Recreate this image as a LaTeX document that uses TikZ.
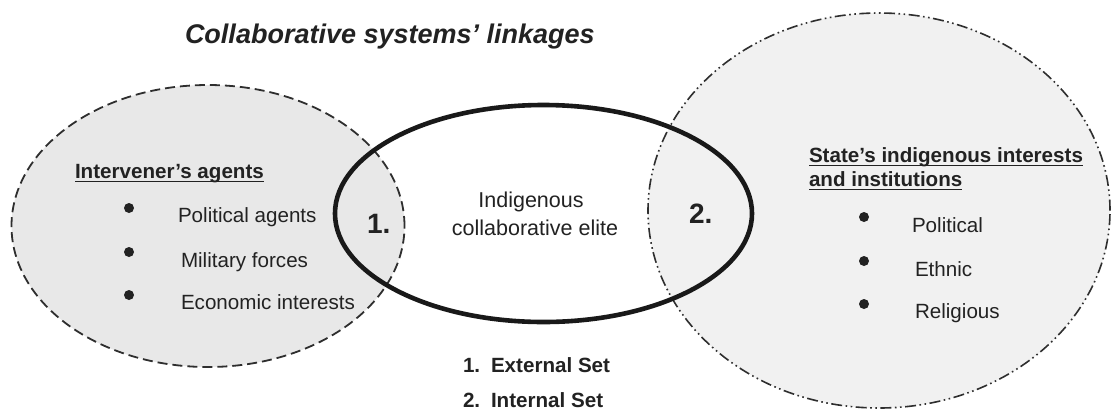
\documentclass[tikz,border=0pt]{standalone}
\usepackage{fontspec}
\setmainfont{Liberation Sans}
\usetikzlibrary{shapes.geometric}
\definecolor{ink}{HTML}{222222}
\definecolor{rim}{HTML}{2E2E2E}
\definecolor{extfill}{HTML}{E8E8E8}
\definecolor{intfill}{HTML}{F1F1F1}
\begin{document}
\begin{tikzpicture}[x=1bp,y=-1bp,
  every node/.style={inner sep=0pt, outer sep=0pt, text=ink},
  body/.style={anchor=base west, font=\fontsize{20.6bp}{24bp}\selectfont},
  bodyb/.style={anchor=base west, font=\fontsize{20.6bp}{24bp}\selectfont\bfseries},
  num/.style={anchor=base west, font=\fontsize{28bp}{30bp}\selectfont\bfseries},
  dot/.style={circle, fill=ink, minimum size=10bp},
  uline/.style={draw=ink, line width=1.5bp},
  extset/.style={ellipse, fill=extfill, draw=rim, line width=1.8bp,
    dash pattern=on 10bp off 5bp},
  intset/.style={ellipse, fill=intfill, draw=rim, line width=1.6bp,
    dash pattern=on 11bp off 3.5bp on 1.6bp off 3.5bp on 1.6bp off 3.5bp},
  elite/.style={ellipse, draw=black!90, line width=4.6bp}
]
\useasboundingbox[fill=white] (0,0) rectangle (1111,412);

% the three sets
\node[extset, minimum width=393bp, minimum height=282bp] (ext) at (208,226) {};
\node[intset, minimum width=462bp, minimum height=395bp] (int) at (879,210.5) {};
\node[elite, minimum width=417bp, minimum height=217bp] (mid) at (543.5,213.5) {};

% title
\node[anchor=base west, font=\fontsize{27bp}{30bp}\selectfont\bfseries\itshape]
  (title) at (185,43) {Collaborative systems’ linkages};

% external set: intervener's agents
\node[bodyb] (exthead) at (75,178) {Intervener's agents};
\draw[uline] ([yshift=-3.5bp]exthead.base west) -- ([yshift=-3.5bp]exthead.base east);
\node[dot] (ed1) at (129,208) {};
\node[dot] (ed2) at (129,252) {};
\node[dot] (ed3) at (129,295) {};
\node[body] (ext1) at (178,222) {Political agents};
\node[body] (ext2) at (181,267) {Military forces};
\node[body] (ext3) at (181,309) {Economic interests};

% internal set: state's interests
\node[bodyb] (inthead1) at (809,162) {State’s indigenous interests};
\node[bodyb] (inthead2) at (809,186) {and institutions};
\draw[uline] ([yshift=-3.5bp]inthead1.base west) -- ([yshift=-3.5bp]inthead1.base east);
\draw[uline] ([yshift=-3.5bp]inthead2.base west) -- ([yshift=-3.5bp]inthead2.base east);
\node[dot] (id1) at (864,217) {};
\node[dot] (id2) at (864,261) {};
\node[dot] (id3) at (864,304) {};
\node[body] (int1) at (912,232) {Political};
\node[body] (int2) at (915,276) {Ethnic};
\node[body] (int3) at (915,318) {Religious};

% collaborative elite
\node[anchor=base, font=\fontsize{21.5bp}{24bp}\selectfont] (elite1) at (531,207) {Indigenous};
\node[anchor=base, font=\fontsize{21.5bp}{24bp}\selectfont] (elite2) at (535,235) {collaborative elite};

% overlap numbers
\node[num] (n1) at (367,233) {1.};
\node[num] (n2) at (689,223) {2.};

% legend
\node[bodyb] (k1) at (463,372) {1.};
\node[bodyb] (l1) at (491,372) {External Set};
\node[bodyb] (k2) at (463,407) {2.};
\node[bodyb] (l2) at (491,407) {Internal Set};
\end{tikzpicture}
\end{document}
